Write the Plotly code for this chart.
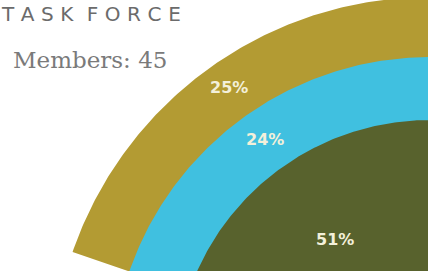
import numpy as np
import plotly.graph_objects as go

# ---- data ----
segments = ["Outer ring", "Middle ring", "Core"]
shares = [25, 24, 51]          # percent
title_text = "TASK FORCE"
members = 45

# ---- style / geometry (pixel-like units) ----
colors = ["#B39B33", "#40C0E0", "#58622D"]
radii = [378, 318, 255]
center = (430, 375)
start_deg, end_deg = 161, -20
label_deg = 125
label_radius = [351, 288, 166]
W, H = 428, 271

fig = go.Figure()
theta = np.radians(np.linspace(start_deg, end_deg, 400))
for name, r, c in zip(segments, radii, colors):
    xs = np.concatenate([[center[0]], center[0] + r * np.cos(theta), [center[0]]])
    ys = np.concatenate([[center[1]], center[1] - r * np.sin(theta), [center[1]]])
    fig.add_trace(go.Scatter(x=xs, y=ys, mode="lines", fill="toself",
                             fillcolor=c, line=dict(width=0, color=c),
                             name=name, hoverinfo="skip", showlegend=False))

la = np.radians(label_deg)
for v, lr in zip(shares, label_radius):
    fig.add_annotation(x=center[0] + lr * np.cos(la), y=center[1] - lr * np.sin(la),
                       text=f"{v}%", showarrow=False,
                       font=dict(family="DejaVu Sans", size=16, color="#F3F0DA", weight="bold"))

spaced_title = "\u2004\u2004".join("\u2004".join(word) for word in title_text.split(" "))
fig.add_annotation(xref="paper", yref="paper", x=0, y=1.0, xanchor="left", yanchor="top",
                   text=spaced_title, showarrow=False, yshift=0, xshift=-1,
                   font=dict(family="DejaVu Sans", size=20, color="#6B6B6B"))
fig.add_annotation(xref="paper", yref="paper", x=0.026, y=1.0, xanchor="left", yanchor="top",
                   yshift=-45, text=f"Members: {members}", showarrow=False,
                   font=dict(family="DejaVu Serif", size=23, color="#7A7A7A"))

fig.update_xaxes(range=[0, W], visible=False, fixedrange=True)
fig.update_yaxes(range=[H, 0], visible=False, fixedrange=True)
fig.update_layout(width=W, height=H, margin=dict(l=0, r=0, t=0, b=0),
                  paper_bgcolor="white", plot_bgcolor="white", showlegend=False)
fig.write_html("out.html", config={"displayModeBar": False},
               post_script="document.body.style.margin='0';")
